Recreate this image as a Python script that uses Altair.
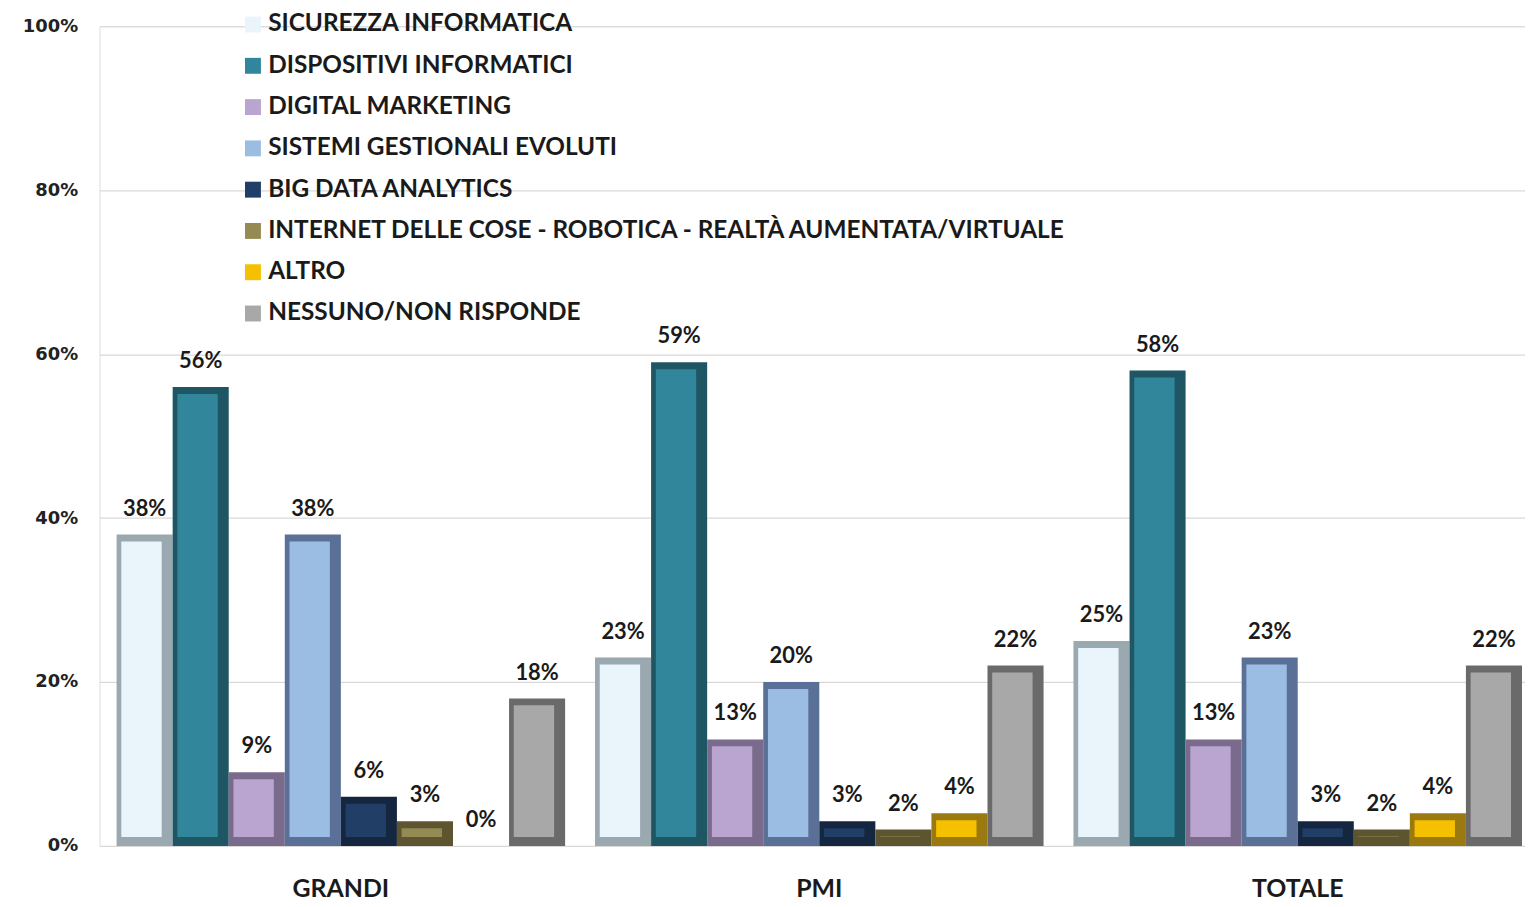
import altair as alt
import pandas as pd

groups = ["GRANDI", "PMI", "TOTALE"]
series = [
    "SICUREZZA INFORMATICA",
    "DISPOSITIVI INFORMATICI",
    "DIGITAL MARKETING",
    "SISTEMI GESTIONALI EVOLUTI",
    "BIG DATA ANALYTICS",
    "INTERNET DELLE COSE - ROBOTICA - REALTÀ AUMENTATA/VIRTUALE",
    "ALTRO",
    "NESSUNO/NON RISPONDE",
]
grandi = [38, 56, 9, 38, 6, 3, 0, 18]
pmi = [23, 59, 13, 20, 3, 2, 4, 22]
totale = [25, 58, 13, 23, 3, 2, 4, 22]

face_colors = ["#eaf4fb", "#31869b", "#b9a5d0", "#9bbde3", "#213e66", "#948a54", "#f5c000", "#a8a8a8"]
edge_colors = ["#9aa8b0", "#1f5663", "#7a6a8c", "#5a7096", "#152640", "#5c5530", "#9a7a10", "#6a6a6a"]

rows = []
for g, vals in zip(groups, [grandi, pmi, totale]):
    for i, (s, v) in enumerate(zip(series, vals)):
        rows.append({"group": g, "series": s, "edge": s + " ", "value": v / 100.0,
                     "label": f"{v}%", "idx": i})
df = pd.DataFrame(rows)

FONT = "Lato"

x_enc = alt.X("group:N", sort=groups,
              scale=alt.Scale(paddingInner=0.0625, paddingOuter=0.021, align=0.85),
              axis=alt.Axis(title=None, labelAngle=0, labelFontSize=25, labelFont=FONT,
                            labelFontWeight="bold", labelColor="#1a1a1a", ticks=False,
                            domain=False, labelPadding=31))
xoff_full = alt.XOffset("series:N", sort=series, scale=alt.Scale(paddingInner=0, paddingOuter=0))
xoff_face = alt.XOffset("series:N", sort=series,
                        scale=alt.Scale(domain=series, paddingInner=0.28, paddingOuter=0.14, align=0.3))
y_enc = alt.Y("value:Q", scale=alt.Scale(domain=[0, 1]),
              axis=alt.Axis(title=None, format=".0%", values=[0, 0.2, 0.4, 0.6, 0.8, 1.0],
                            labelFont="DejaVu Sans", labelFontWeight="bold", labelFontSize=18,
                            labelColor="#222222", ticks=False, domain=False, labelPadding=22,
                            gridColor="#d9d9d9", gridWidth=1.2))

outer = alt.Chart(df).mark_bar().encode(
    x=x_enc, xOffset=xoff_full, y=y_enc,
    color=alt.Color("edge:N", sort=[s + " " for s in series],
                    scale=alt.Scale(domain=[s + " " for s in series], range=edge_colors),
                    legend=None),
)

text = alt.Chart(df).mark_text(baseline="bottom", dy=-14, font=FONT, fontWeight="bold",
                               fontSize=22, color="#1a1a1a").encode(
    x=x_enc, xOffset=xoff_full, y=y_enc, text="label:N"
)

inner = alt.Chart(df).transform_filter("datum.value > 0").mark_bar(
    yOffset=7, y2Offset=-9
).encode(
    x=x_enc, xOffset=xoff_face, y=y_enc, y2=alt.datum(0),
    color=alt.Color("series:N", sort=series,
                    scale=alt.Scale(domain=series, range=face_colors),
                    legend=alt.Legend(title=None, orient="none", legendX=142, legendY=-14,
                                      symbolType="square", symbolSize=256, symbolStrokeWidth=0,
                                      labelFont=FONT, labelFontWeight="bold", labelFontSize=24.5,
                                      labelColor="#1a1a1a", rowPadding=16.5, labelLimit=1000,
                                      labelOffset=3)),
)

chart = alt.layer(alt.layer(outer, text), inner).resolve_scale(
    color="independent", xOffset="independent"
).properties(
    width=1433, height=824,
    autosize=alt.AutoSizeParams(type="none"),
    padding={"left": 92, "top": 16, "right": 0, "bottom": 58},
).configure_view(stroke=None).configure(background="white")

chart.save("out.html", embed_options={"renderer": "svg", "actions": False})
